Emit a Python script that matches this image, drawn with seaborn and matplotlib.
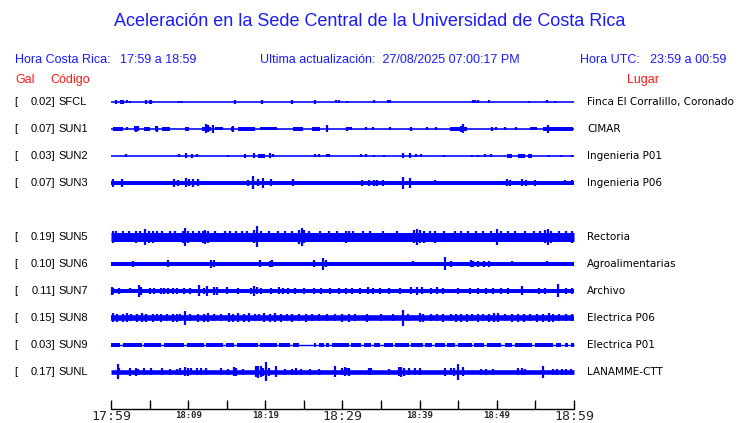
import pandas as pd
import matplotlib
matplotlib.use("Agg")
import matplotlib.pyplot as plt
import seaborn as sns

# --- Data ---
stations = ["SFCL", "SUN1", "SUN2", "SUN3", "SUN5", "SUN6", "SUN7", "SUN8", "SUN9", "SUNL"]
gal = [0.02, 0.07, 0.03, 0.07, 0.19, 0.10, 0.11, 0.15, 0.03, 0.17]
lugar = ["Finca El Corralillo, Coronado", "CIMAR", "Ingenieria P01", "Ingenieria P06",
         "Rectoria", "Agroalimentarias", "Archivo", "Electrica P06", "Electrica P01",
         "LANAMME-CTT"]

# background noise level of each trace (half height, px)
noise = [0.8, 0.8, 0.8, 2.0, 4.5, 2.0, 2.0, 2.8, 0.7, 2.3]

# bursts: (start minute, end minute, half height)
bursts = {
    "SUN1": [(0.2, 1.5, 1.8), (3.0, 3.6, 2.5), (4.3, 5.0, 1.8), (5.7, 6.1, 2.5), (6.6, 7.6, 1.8),
             (9.6, 10.1, 2), (11.8, 12.9, 2.2), (13.5, 14.5, 1.5), (15.6, 16.0, 2), (16.5, 18.7, 1.8),
             (19.3, 21.5, 1.5), (23.6, 24.9, 2), (26.0, 27.1, 2), (30.6, 31.2, 1.5), (43.9, 46.1, 2),
             (54.3, 55.2, 1.5), (56.0, 59.9, 2)],
    "SUN2": [(19.0, 19.9, 2), (51.3, 52.0, 1.8), (52.8, 53.6, 1.8), (54.0, 54.6, 1.8)],
    "SUN9": [(0.0, 1.2, 1.6), (1.5, 4.0, 1.6), (4.3, 6.5, 1.6), (6.9, 9.5, 1.6), (9.8, 12.0, 1.6),
             (12.3, 14.5, 1.6), (14.9, 16.0, 1.6), (16.3, 19.0, 1.6), (19.3, 21.5, 1.6),
             (21.8, 23.2, 1.6), (23.6, 24.3, 1.6), (26.3, 26.6, 1.6), (26.9, 27.6, 1.6),
             (27.9, 28.3, 1.6), (28.6, 30.8, 1.6), (31.1, 32.4, 1.6), (32.8, 33.7, 1.6),
             (34.1, 34.9, 1.6), (35.4, 36.5, 1.6), (36.8, 38.6, 1.6), (38.9, 40.4, 1.6),
             (40.7, 41.6, 1.6), (42.0, 43.3, 1.6), (43.6, 44.6, 1.6), (45.0, 46.8, 1.6),
             (47.1, 48.3, 1.6), (48.7, 50.6, 1.6), (51.0, 52.0, 1.6), (52.4, 54.6, 1.6),
             (54.9, 57.3, 1.6), (57.7, 58.3, 1.6), (58.8, 59.2, 1.6), (59.6, 60.0, 1.6)],
}

# spikes: (minute, half height)
spikes = {
    "SFCL": [(0.6, 2), (1.3, 2), (1.5, 2), (2.1, 1.5), (2.5, 1), (4.5, 2), (5.0, 2), (5.2, 2),
             (8.8, 1), (9.2, 1), (16.1, 2), (19.6, 2), (23.5, 2), (26.5, 2), (29.1, 1.5),
             (29.5, 1.5), (30.6, 1), (34.1, 1.5), (35.9, 1.5), (36.1, 1.5), (46.9, 1.5),
             (47.2, 1.5), (47.6, 1.5), (49.0, 1.5), (54.2, 1), (56.5, 1.5), (57.5, 1)],
    "SUN1": [(2.1, 1.5), (3.3, 3), (6.0, 3), (12.3, 4.5), (12.6, 3.5), (13.2, 4), (15.8, 3),
             (28.0, 3.5), (30.6, 2), (33.1, 1.5), (34.0, 1.5), (36.1, 1.5), (38.9, 2), (41.0, 1.5),
             (42.1, 1.5), (45.3, 3), (45.6, 4.5), (49.4, 2), (49.9, 1.5), (51.0, 1.5), (52.5, 1.5),
             (56.6, 4)],
    "SUN2": [(2.0, 1.5), (8.8, 1.5), (9.7, 2.5), (10.5, 2), (11.1, 1.5), (15.2, 1), (17.4, 2),
             (18.5, 2.5), (19.3, 2), (19.6, 2), (20.6, 2.5), (21.0, 1.5), (26.5, 1.5), (27.0, 1.5),
             (28.0, 1.5), (28.3, 1.5), (32.4, 1.5), (33.0, 1.5), (34.1, 1), (35.4, 1), (37.8, 2.5),
             (38.7, 2.5), (39.5, 1.5), (40.2, 1.5), (43.2, 1), (46.8, 1), (47.6, 1), (48.5, 1.5),
             (49.3, 1.5), (51.7, 2), (53.1, 2), (54.3, 2), (56.7, 1), (58.3, 1), (59.8, 1)],
    "SUN3": [(0.2, 4), (1.4, 4), (8.1, 4), (8.7, 3), (9.7, 4.5), (10.1, 3.5), (10.6, 4), (11.3, 3.5),
             (17.8, 3), (18.4, 6.5), (19.1, 3.5), (19.7, 5), (20.7, 3.5), (23.6, 3.5), (32.5, 3),
             (33.4, 3), (34.1, 3), (34.5, 3), (35.3, 3), (37.8, 6), (38.7, 5), (42.0, 2.5),
             (51.3, 3.5), (51.7, 3), (53.3, 3.5), (53.8, 3), (55.0, 3), (58.8, 2.5), (59.8, 2.5)],
    "SUN5": [(0.3, 6), (0.6, 5.5), (1.5, 5.5), (2.3, 5.5), (3.3, 6), (3.8, 5.5), (4.4, 8), (4.9, 6),
             (5.5, 6), (6.0, 5.5), (6.6, 5.5), (7.6, 5.5), (8.3, 5.5), (9.3, 6), (9.6, 9), (10.0, 6),
             (10.6, 5.5), (11.4, 5.5), (11.9, 6), (12.2, 7), (12.6, 6), (13.5, 5.5), (14.8, 5.5),
             (15.4, 5.5), (16.2, 5.5), (17.0, 5.5), (17.6, 5.5), (18.5, 6.5), (18.9, 10.5), (19.4, 5.5),
             (20.5, 5.5), (21.6, 5.5), (22.5, 5.5), (23.5, 5.5), (24.4, 7), (24.7, 9), (25.0, 6.5),
             (25.6, 5.5), (27.1, 5.5), (28.2, 5.5), (29.3, 5.5), (30.5, 6), (30.8, 5.5), (31.4, 5.5),
             (32.6, 5.5), (33.6, 5.5), (35.3, 5.5), (37.0, 5.5), (39.3, 6.5), (39.7, 8), (40.1, 6.5),
             (40.6, 6), (41.3, 5.5), (42.0, 6), (43.2, 5.5), (44.6, 5.5), (45.4, 5.5), (46.3, 5.5),
             (47.3, 5.5), (48.2, 5.5), (49.2, 5.5), (50.0, 8), (50.6, 5.5), (51.5, 5.5), (52.3, 5.5),
             (53.6, 5.5), (54.8, 5.5), (55.6, 5.5), (56.3, 6.5), (56.6, 8), (57.0, 6), (58.0, 5.5),
             (59.0, 5.5), (59.7, 6)],
    "SUN6": [(2.9, 3), (7.4, 3.5), (13.0, 4), (13.3, 3.5), (19.3, 3.5), (20.6, 3), (20.9, 3.5),
             (26.3, 3.5), (27.5, 6), (27.9, 3.5), (39.2, 2.5), (43.3, 6.5), (44.0, 3), (46.6, 3.5),
             (46.9, 3), (47.6, 3), (48.3, 3), (49.0, 3), (52.0, 2.5), (56.5, 2.5)],
    "SUN7": [(0.1, 4), (0.3, 3), (1.1, 3), (2.4, 2.5), (3.6, 6), (3.9, 4), (5.0, 3), (5.6, 3),
             (6.5, 3), (6.9, 3), (7.4, 3), (8.0, 3), (8.5, 3), (9.5, 3), (10.3, 3), (11.4, 5.5),
             (12.0, 3), (12.4, 5), (13.4, 4), (13.7, 4), (15.0, 3.5), (16.5, 3), (18.2, 3),
             (18.5, 5), (18.9, 3.5), (19.5, 3), (20.7, 3), (21.8, 3.5), (22.3, 3), (23.0, 3),
             (23.9, 3), (25.0, 3), (26.3, 3), (27.2, 3), (28.4, 3), (29.5, 3), (30.5, 3), (31.2, 3),
             (32.3, 3), (33.3, 3.5), (34.0, 3), (34.8, 3), (36.0, 3), (37.5, 3), (38.9, 3.5),
             (39.6, 4), (40.3, 3.5), (41.5, 3), (42.2, 3.5), (43.0, 3), (45.0, 3), (46.5, 3),
             (47.5, 3), (48.6, 3), (49.5, 3), (50.5, 3), (51.5, 3), (53.3, 4.5), (55.5, 3),
             (56.2, 3), (57.9, 6.5), (59.0, 3), (59.7, 3)],
    "SUN8": [(0.3, 4.5), (0.8, 4), (1.5, 4), (2.1, 4.5), (2.6, 3.5), (3.4, 4), (4.0, 4.5), (4.6, 4),
             (5.4, 4), (6.0, 3.5), (6.5, 4), (7.2, 3.5), (8.0, 4), (8.6, 4), (9.0, 3.5), (9.6, 7),
             (10.2, 3.5), (11.3, 4), (12.0, 4), (12.6, 4.5), (13.4, 3.5), (14.2, 3.5), (15.3, 4.5),
             (15.8, 4), (16.4, 4.5), (17.2, 4), (17.9, 4.5), (18.6, 3.5), (19.2, 3.5), (19.8, 4.5),
             (20.6, 4), (21.2, 4.5), (22.0, 4), (22.8, 3.5), (23.5, 4), (24.3, 3.5), (25.3, 4),
             (26.0, 3.5), (27.0, 3.5), (28.0, 3.5), (29.0, 3.5), (30.0, 4), (30.8, 4), (31.6, 3.5),
             (33.2, 4), (35.0, 3.5), (36.5, 3.5), (37.8, 8), (38.5, 3.5), (40.0, 4.5), (40.4, 4),
             (41.5, 3.5), (42.3, 3.5), (43.0, 4), (44.0, 3.5), (44.7, 4), (45.4, 4), (46.1, 4),
             (46.8, 3.5), (47.5, 4), (48.2, 3.5), (49.0, 4), (49.6, 4.5), (50.2, 4.5), (51.0, 3.5),
             (52.0, 4), (52.8, 4), (53.5, 4), (54.3, 3.5), (55.2, 4), (56.0, 4), (56.8, 4.5),
             (57.3, 4), (58.0, 3.5), (59.0, 3.5), (59.7, 3.5)],
    "SUNL": [(0.9, 7.5), (1.1, 3.5), (2.5, 4), (3.2, 4), (3.5, 3), (4.3, 3.5), (5.2, 3.5),
             (6.6, 3.5), (7.7, 3), (8.5, 3), (9.0, 3.5), (9.6, 4.5), (10.0, 4), (10.4, 3.5),
             (11.1, 3.5), (11.6, 3.5), (12.3, 3.5), (14.3, 3.5), (15.2, 3), (15.9, 4.5), (16.2, 4),
             (17.1, 3), (18.8, 5.5), (19.1, 6), (19.4, 5.5), (19.7, 4), (20.1, 9.5), (20.5, 4),
             (21.4, 5.5), (22.6, 3), (23.5, 3), (24.0, 3.5), (24.6, 3), (25.8, 3), (27.0, 3),
             (29.0, 5.5), (29.9, 3.5), (30.3, 4.5), (30.6, 3.5), (30.9, 4), (33.4, 3.5), (33.7, 3.5),
             (36.0, 3), (37.3, 4.5), (37.6, 5), (38.0, 4), (38.6, 3.5), (39.4, 3.5), (40.0, 3.5),
             (43.3, 4), (44.0, 3.5), (44.5, 4), (45.0, 8), (45.6, 4.5), (48.0, 3), (48.6, 3),
             (49.5, 3), (52.8, 3.5), (53.2, 3.5), (53.6, 3), (56.0, 6), (57.3, 3), (57.8, 3),
             (58.4, 3), (59.0, 3), (59.6, 3)],
}

tick_minutes = [0, 5, 10, 15, 20, 25, 30, 35, 40, 45, 50, 55, 60]
tick_labels = {0: "17:59", 10: "18:09", 20: "18:19", 30: "18:29", 40: "18:39", 50: "18:49", 60: "18:59"}
big_labels = ["17:59", "18:29", "18:59"]

# --- Layout (pixels in a 740x423 canvas) ---
W, H = 740, 423
x0_px, x1_px = 111, 574
slots = [0, 1, 2, 3, 5, 6, 7, 8, 9, 10]   # SUN4 slot is empty
row_y = [102 + 27 * s for s in slots]
axis_y = 409

blue = "#0000ff"
txt_blue = "#1a1aff"
red = "#ff1a1a"

sns.set_style("white")
plt.rcParams['font.family'] = ['Liberation Sans', 'DejaVu Sans']

fig = plt.figure(figsize=(W / 100, H / 100), dpi=100)
ax = fig.add_axes([0, 0, 1, 1])
mpp = 60 / (x1_px - x0_px)  # minutes per pixel
ax.set_xlim(-x0_px * mpp, (W - x0_px) * mpp)
ax.set_ylim(H, 0)
ax.axis("off")


def ftext(x, y, s, **kw):
    fig.text(x / W, 1 - y / H, s, va="center", **kw)


# Traces
for i, st in enumerate(stations):
    y0 = row_y[i]
    sns.lineplot(x=[0, 60], y=[y0, y0], ax=ax, color=blue, lw=noise[i] * 2 * 0.72,
                 solid_capstyle="butt")
    for t0, t1, a in bursts.get(st, []):
        ax.fill_between([t0, t1], y0 - a, y0 + a, color=blue, lw=0)
    sp = spikes.get(st, [])
    if sp:
        ts = [s[0] for s in sp]
        amps = [s[1] for s in sp]
        ax.vlines(ts, [y0 - a for a in amps], [y0 + a for a in amps], color=blue, lw=1.6)

    # labels
    ftext(14, y0, "[", fontsize=8, color="black")
    ftext(55, y0, f"{gal[i]:.2f}]", fontsize=8, color="black", ha="right")
    ftext(58, y0, st, fontsize=8, color="black")
    ftext(587, y0, lugar[i], fontsize=7.5, color="black", family="DejaVu Sans")

# Time axis
ax.plot([0, 60], [axis_y, axis_y], color="black", lw=1)
ax.vlines(tick_minutes, axis_y - 9, axis_y, color="black", lw=1)
for m, lab in tick_labels.items():
    if lab in big_labels:
        ax.text(m, axis_y + 8, lab, ha="center", va="center", fontsize=9.5,
                family="DejaVu Sans Mono")
    else:
        ax.text(m, axis_y + 6, lab, ha="center", va="center", fontsize=6.5,
                family="DejaVu Sans Mono", fontweight="bold")

# Header
ftext(370, 22, "Aceleración en la Sede Central de la Universidad de Costa Rica",
      fontsize=13, color=txt_blue, ha="center")
ftext(15, 60, "Hora Costa Rica:", fontsize=9, color=txt_blue)
ftext(120, 60, "17:59 a 18:59", fontsize=9, color=txt_blue)
ftext(260, 60, "Ultima actualización:  27/08/2025 07:00:17 PM", fontsize=9, color=txt_blue)
ftext(580, 60, "Hora UTC:", fontsize=9, color=txt_blue)
ftext(650, 60, "23:59 a 00:59", fontsize=9, color=txt_blue)
ftext(15, 80, "Gal", fontsize=9, color=red)
ftext(50, 80, "Código", fontsize=9, color=red)
ftext(627, 80, "Lugar", fontsize=9, color=red)

plt.savefig("out.png", dpi=100)
